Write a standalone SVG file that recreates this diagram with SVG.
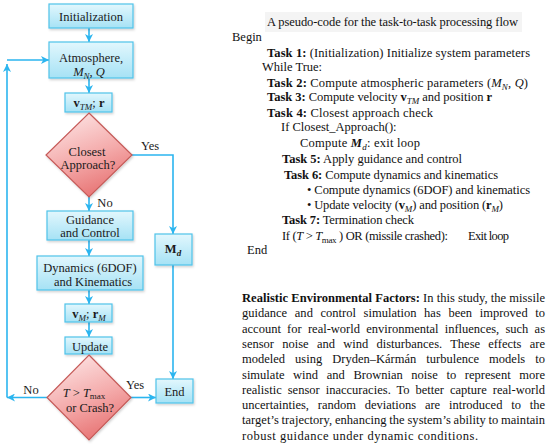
<svg xmlns="http://www.w3.org/2000/svg" width="550" height="446" viewBox="0 0 550 446">
<defs>
<linearGradient id="gBox" x1="0" y1="0" x2="0" y2="1">
<stop offset="0" stop-color="#e2f7fd"/>
<stop offset="1" stop-color="#a6e2f5"/>
</linearGradient>
<linearGradient id="gDia" x1="0.2" y1="0" x2="0.6" y2="1">
<stop offset="0" stop-color="#fde6e6"/>
<stop offset="0.55" stop-color="#f4aaaa"/>
<stop offset="1" stop-color="#e77272"/>
</linearGradient>
<filter id="sh" x="-10%" y="-10%" width="130%" height="140%">
<feDropShadow dx="1" dy="1.5" stdDeviation="0.8" flood-color="#000" flood-opacity="0.18"/>
</filter>
<marker id="ah" markerUnits="userSpaceOnUse" markerWidth="9" markerHeight="8" refX="8" refY="4" orient="auto">
<path d="M0,0 L8,4 L0,8 L2.2,4 z" fill="#2bb5ef"/>
</marker>
</defs>
<style>
.box{fill:url(#gBox);stroke:#4fc3ea;stroke-width:1.2;filter:url(#sh)}
.dia{fill:url(#gDia);stroke:#c55a58;stroke-width:1.2;filter:url(#sh)}
.con{fill:none;stroke:#2bb5ef;stroke-width:1.6}
.arr{marker-end:url(#ah)}
.ft{font-family:"Liberation Serif","Times New Roman",serif;font-size:12.5px;fill:#1a1a1a;text-anchor:middle}
.pc{font-family:"Liberation Serif","Times New Roman",serif;font-size:12.5px;fill:#111}
.b{font-weight:bold}
.i{font-style:italic}
.sub{font-size:9px;baseline-shift:-2.5px}
</style>
<rect width="550" height="446" fill="#ffffff"/>

<g id="connectors">
<line class="con arr" x1="89" y1="28" x2="89" y2="42"/>
<line class="con arr" x1="89" y1="78" x2="89" y2="93"/>
<line class="con arr" x1="89" y1="197" x2="89" y2="211"/>
<line class="con arr" x1="89" y1="240" x2="89" y2="256"/>
<line class="con arr" x1="89" y1="290" x2="89" y2="304"/>
<line class="con arr" x1="89" y1="322" x2="89" y2="337"/>
<polyline class="con arr" points="132,155 173,155 173,234"/>
<line class="con arr" x1="173" y1="265" x2="173" y2="379"/>
<line class="con arr" x1="131" y1="397.5" x2="156" y2="397.5"/>
<line class="con arr" x1="47" y1="397.5" x2="7" y2="397.5"/>
<line class="con arr" x1="7" y1="397.5" x2="7" y2="64"/>
<line class="con arr" x1="7" y1="60" x2="49" y2="60"/>
</g>

<g id="n-init"><rect class="box" x="49" y="4" width="84" height="24"/><text class="ft" x="91" y="21">Initialization</text></g>
<g id="n-atmos"><rect class="box" x="49" y="42" width="84" height="36"/><text class="ft" x="91" y="62">Atmosphere,</text><text class="ft" x="89" y="76"><tspan class="i">M</tspan><tspan class="sub i">N</tspan>, <tspan class="i">Q</tspan></text></g>
<g id="n-vtm"><rect class="box" x="65" y="93" width="47" height="19"/><text class="ft" x="89" y="106.5"><tspan class="b">v</tspan><tspan class="sub i">TM</tspan>;  <tspan class="b">r</tspan></text></g>
<g id="n-closest"><polygon class="dia" points="89,113 132,155 89,197 46,155"/><text class="ft" x="87" y="156">Closest</text><text class="ft" x="88" y="169">Approach?</text></g>
<g id="n-guid"><rect class="box" x="47" y="211" width="86" height="29"/><text class="ft" x="90" y="224">Guidance</text><text class="ft" x="90" y="237">and Control</text></g>
<g id="n-dyn"><rect class="box" x="37" y="256" width="106" height="34"/><text class="ft" x="90" y="272">Dynamics (6DOF)</text><text class="ft" x="93" y="286">and Kinematics</text></g>
<g id="n-vm"><rect class="box" x="65" y="304" width="47" height="18"/><text class="ft" x="89" y="317.5"><tspan class="b">v</tspan><tspan class="sub i">M</tspan>;  <tspan class="b">r</tspan><tspan class="sub i">M</tspan></text></g>
<g id="n-update"><rect class="box" x="65" y="337" width="47" height="17"/><text class="ft" x="90" y="350.5">Update</text></g>
<g id="n-term"><polygon class="dia" points="89,355 131,397.5 89,440 47,397.5"/><text class="ft" x="84" y="396.5"><tspan class="i">T</tspan> &gt; <tspan class="i">T</tspan><tspan class="sub" style="baseline-shift:-1.5px">max</tspan></text><text class="ft" x="90" y="412">or Crash?</text></g>
<g id="n-md"><rect class="box" x="155" y="234" width="37" height="31"/><text class="ft" x="173" y="253"><tspan class="b">M</tspan><tspan class="sub b i">d</tspan></text></g>
<g id="n-end"><rect class="box" x="156" y="379" width="37" height="24"/><text class="ft" x="174.5" y="396">End</text></g>

<g id="labels">
<text class="ft" x="150" y="150">Yes</text>
<text class="ft" x="105" y="207">No</text>
<text class="ft" x="31" y="394">No</text>
<text class="ft" x="135" y="389">Yes</text>
</g>

<g id="pseudocode">
<rect x="265" y="12" width="257" height="20" fill="#f4f4f4"/>
<text class="pc" x="267" y="26" textLength="251">A pseudo-code for the task-to-task processing flow</text>
<text class="pc" x="232" y="41.3">Begin</text>
<text class="pc" x="267" y="57.3" textLength="263"><tspan class="b">Task 1:</tspan> (Initialization) Initialize system parameters</text>
<text class="pc" x="262" y="71.3">While True:</text>
<text class="pc" x="267" y="86.7" textLength="261"><tspan class="b">Task 2:</tspan> Compute atmospheric parameters (<tspan class="i">M</tspan><tspan class="sub i">N</tspan>,  <tspan class="i">Q</tspan>)</text>
<text class="pc" x="267" y="101.3" textLength="225"><tspan class="b">Task 3:</tspan> Compute velocity  <tspan class="b">v</tspan><tspan class="sub i">TM</tspan>  and position  <tspan class="b">r</tspan></text>
<text class="pc" x="267" y="117.3" textLength="166"><tspan class="b">Task 4:</tspan> Closest approach check</text>
<text class="pc" x="281" y="131.3">If Closest_Approach():</text>
<text class="pc" x="300" y="146.7" textLength="120">Compute  <tspan class="b i">M</tspan><tspan class="sub i">d</tspan>: exit loop</text>
<text class="pc" x="282" y="163.3" textLength="180"><tspan class="b">Task 5:</tspan> Apply guidance and control</text>
<text class="pc" x="284" y="178.7" textLength="214"><tspan class="b">Task 6:</tspan> Compute dynamics and kinematics</text>
<text class="pc" x="307" y="194" textLength="223">• Compute dynamics (6DOF) and kinematics</text>
<text class="pc" x="307" y="209.3" textLength="196">• Update velocity (<tspan class="b">v</tspan><tspan class="sub i">M</tspan>) and position (<tspan class="b">r</tspan><tspan class="sub i">M</tspan>)</text>
<text class="pc" x="282" y="224" textLength="132"><tspan class="b">Task 7:</tspan> Termination check</text>
<text class="pc" x="282" y="240" textLength="166">If (<tspan class="i">T</tspan> &gt; <tspan class="i">T</tspan><tspan class="sub">max</tspan> ) OR (missile crashed):</text>
<text class="pc" x="468" y="240" textLength="41">Exit loop</text>
<text class="pc" x="247" y="254">End</text>
</g>

<g id="paragraph">
<text class="pc" x="242" y="302" textLength="303"><tspan class="b">Realistic Environmental Factors:</tspan> In this study, the missile</text>
<text class="pc" x="242" y="317.3" textLength="303" word-spacing="4.5">guidance and control simulation has been improved to</text>
<text class="pc" x="242" y="332.6" textLength="303" word-spacing="3.1">account for real-world environmental influences, such as</text>
<text class="pc" x="242" y="347.9" textLength="303" word-spacing="5.1">sensor noise and wind disturbances. These effects are</text>
<text class="pc" x="242" y="363.2" textLength="303" word-spacing="6.9">modeled using Dryden–Kármán turbulence models to</text>
<text class="pc" x="242" y="378.5" textLength="303" word-spacing="5.5">simulate wind and Brownian noise to represent more</text>
<text class="pc" x="242" y="393.8" textLength="303" word-spacing="2.8">realistic sensor inaccuracies. To better capture real-world</text>
<text class="pc" x="242" y="409.1" textLength="303" word-spacing="5.7">uncertainties, random deviations are introduced to the</text>
<text class="pc" x="242" y="424.4" textLength="303" word-spacing="-0.4">target’s trajectory, enhancing the system’s ability to maintain</text>
<text class="pc" x="242" y="439.7" textLength="236">robust guidance under dynamic conditions.</text>
</g>
</svg>
